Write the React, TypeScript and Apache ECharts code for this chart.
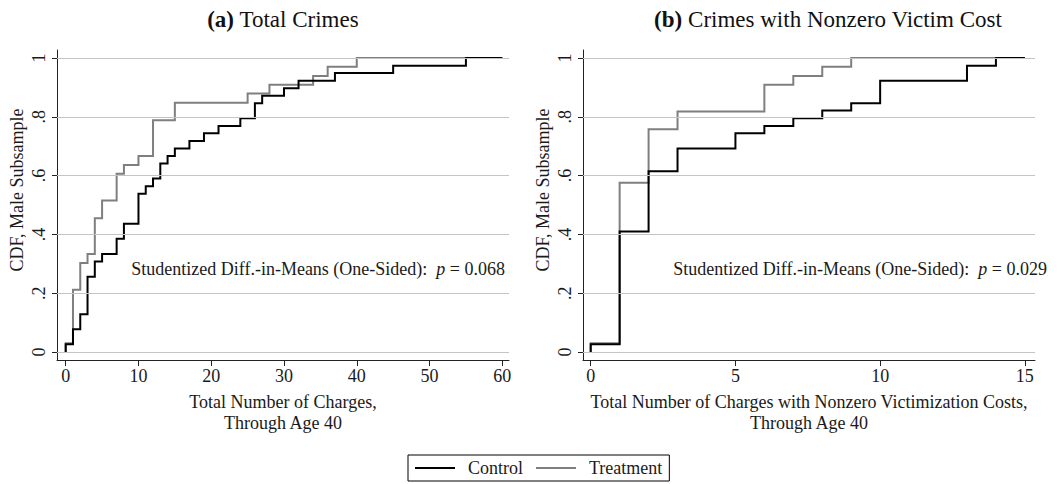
import React, { useEffect, useRef } from "react";
import * as echarts from "echarts";

// Panel (a): Total crimes — step CDF points (x = charges, y = CDF)
const ctrlTotalX = [0, 0, 1, 2, 3, 4, 5, 7, 8, 10, 11, 12, 13, 14, 15, 17, 19, 21, 24, 26, 27, 30, 32, 37, 45, 55, 60];
const ctrlTotalY = [0, 0.026, 0.077, 0.128, 0.256, 0.308, 0.333, 0.385, 0.436, 0.538, 0.564, 0.59, 0.641, 0.667, 0.692, 0.718, 0.744, 0.769, 0.795, 0.846, 0.872, 0.897, 0.923, 0.949, 0.974, 1, 1];
const treatTotalX = [0, 0, 1, 2, 3, 4, 5, 7, 8, 10, 12, 15, 25, 28, 34, 36, 40, 60];
const treatTotalY = [0, 0.03, 0.212, 0.303, 0.333, 0.455, 0.515, 0.606, 0.636, 0.667, 0.788, 0.848, 0.879, 0.909, 0.939, 0.97, 1, 1];

// Panel (b): Crimes with nonzero victim cost
const ctrlVicX = [0, 0, 1, 2, 3, 5, 6, 7, 8, 9, 10, 13, 14, 15];
const ctrlVicY = [0, 0.026, 0.41, 0.615, 0.692, 0.744, 0.769, 0.795, 0.821, 0.846, 0.923, 0.974, 1, 1];
const treatVicX = [0, 0, 1, 2, 3, 6, 7, 8, 9, 15];
const treatVicY = [0, 0.03, 0.576, 0.758, 0.818, 0.909, 0.939, 0.97, 1, 1];

const xTicksTotal = [0, 10, 20, 30, 40, 50, 60];
const xTicksVic = [0, 5, 10, 15];
const yTicks = [0, 0.2, 0.4, 0.6, 0.8, 1];
const yTickLabels = ["0", ".2", ".4", ".6", ".8", "1"];

const seriesNames = ["Control", "Treatment"];
const panelTitles = ["Total Crimes", "Crimes with Nonzero Victim Cost"];
const panelLetters = ["(a)", "(b)"];
const xTitles = [
  ["Total Number of Charges,", "Through Age 40"],
  ["Total Number of Charges with Nonzero Victimization Costs,", "Through Age 40"],
];
const yTitle = "CDF, Male Subsample";
const pValues = ["0.068", "0.029"];

const FONT = "'Liberation Serif', 'Times New Roman', serif";
const FS = 18;
const TXT = "#1a1a1a";
const CTRL_COLOR = "#000000";
const TREAT_COLOR = "#7f7f7f";
const GRID_COLOR = "#c4c4c4";

const zip = (xs: number[], ys: number[]) => xs.map((x, i) => [x, ys[i]]);

function makeX(idx: number, min: number, max: number, ticks: number[]) {
  return {
    type: "value",
    gridIndex: idx,
    min,
    max,
    axisLine: { show: true, onZero: false, lineStyle: { color: "#222", width: 1 } },
    axisTick: { show: true, customValues: ticks, length: 6, lineStyle: { color: "#222", width: 1 } },
    axisLabel: {
      customValues: ticks,
      fontFamily: FONT,
      fontSize: FS,
      color: TXT,
      margin: 7,
    },
    splitLine: { show: false },
  };
}

function makeY(idx: number) {
  return {
    type: "value",
    gridIndex: idx,
    min: -0.0272,
    max: 1.0272,
    axisLine: { show: true, onZero: false, lineStyle: { color: "#222", width: 1 } },
    axisTick: { show: true, customValues: yTicks, length: 5, lineStyle: { color: "#222", width: 1 } },
    axisLabel: {
      customValues: yTicks,
      rotate: 90,
      fontFamily: FONT,
      fontSize: FS,
      color: TXT,
      margin: 9,
      formatter: (v: number) => yTickLabels[Math.round(v * 5)] ?? "",
    },
    splitLine: { show: false },
  };
}

function gridSeries(idx: number) {
  return {
    type: "line",
    xAxisIndex: idx,
    yAxisIndex: idx,
    data: [],
    z: 1,
    silent: true,
    symbol: "none",
    markLine: {
      silent: true,
      symbol: ["none", "none"],
      label: { show: false },
      lineStyle: { color: GRID_COLOR, width: 1, type: "solid" },
      data: yTicks.map((v) => ({ yAxis: v })),
      animation: false,
    },
  };
}

function cdfSeries(name: string, idx: number, data: number[][], color: string, z: number) {
  return {
    name,
    type: "line",
    xAxisIndex: idx,
    yAxisIndex: idx,
    step: "end",
    symbol: "none",
    data,
    z,
    lineStyle: { color, width: 2, cap: "butt", join: "miter" },
    itemStyle: { color },
  };
}

export default function App() {
  const ref = useRef<HTMLDivElement>(null);
  useEffect(() => {
    if (!ref.current) return;
    const chart = echarts.init(ref.current, undefined, { renderer: "svg" });
    const titleCenters = [283, 828];
    const plotCenters = [283, 809];
    const graphics: any[] = [];
    [0, 1].forEach((i) => {
      graphics.push({
        type: "text",
        x: titleCenters[i],
        y: 19,
        style: {
          text: `{b|${panelLetters[i]}} ${panelTitles[i]}`,
          align: "center",
          verticalAlign: "middle",
          fontFamily: FONT,
          fontSize: 23,
          fill: "#111",
          rich: {
            b: { fontFamily: FONT, fontSize: 23, fontWeight: "bold", fill: "#111" },
          },
        },
      });
      xTitles[i].forEach((line, k) => {
        graphics.push({
          type: "text",
          x: plotCenters[i],
          y: 402 + k * 21,
          style: { text: line, align: "center", verticalAlign: "middle", fontFamily: FONT, fontSize: FS, fill: TXT },
        });
      });
      graphics.push({
        type: "text",
        x: i === 0 ? 17 : 543,
        y: 190,
        rotation: Math.PI / 2,
        style: { text: yTitle, align: "center", verticalAlign: "middle", fontFamily: FONT, fontSize: FS, fill: TXT },
      });
      graphics.push({
        type: "text",
        x: i === 0 ? 505 : 1047,
        y: 269,
        style: {
          text: `Studentized Diff.-in-Means (One-Sided):  {i|p} = ${pValues[i]}`,
          align: "right",
          verticalAlign: "middle",
          fontFamily: FONT,
          fontSize: FS,
          fill: TXT,
          rich: { i: { fontFamily: FONT, fontSize: FS, fontStyle: "italic", fill: TXT } },
        },
      });
    });

    chart.setOption({
      animation: false,
      backgroundColor: "#ffffff",
      grid: [
        { left: 57, top: 50, width: 452, height: 310 },
        { left: 583, top: 50, width: 452, height: 310 },
      ],
      xAxis: [makeX(0, -1.196, 60.92, xTicksTotal), makeX(1, -0.266, 15.35, xTicksVic)],
      yAxis: [makeY(0), makeY(1)],
      legend: {
        data: seriesNames,
        left: 408,
        top: 455,
        icon: "rect",
        itemWidth: 40,
        itemHeight: 2,
        itemGap: 13,
        borderColor: "#000",
        borderWidth: 1,
        borderRadius: 0,
        padding: [4, 7, 4, 7],
        textStyle: { fontFamily: FONT, fontSize: FS, color: TXT, padding: [0, 0, 0, 8] },
      },
      series: [
        gridSeries(0),
        gridSeries(1),
        cdfSeries(seriesNames[1], 0, zip(treatTotalX, treatTotalY), TREAT_COLOR, 3),
        cdfSeries(seriesNames[0], 0, zip(ctrlTotalX, ctrlTotalY), CTRL_COLOR, 4),
        cdfSeries(seriesNames[1], 1, zip(treatVicX, treatVicY), TREAT_COLOR, 3),
        cdfSeries(seriesNames[0], 1, zip(ctrlVicX, ctrlVicY), CTRL_COLOR, 4),
      ],
      graphic: graphics,
    });
    return () => chart.dispose();
  }, []);
  return (
    <div
      ref={ref}
      style={{ position: "absolute", left: 0, top: 0, width: 1058, height: 484, background: "#fff" }}
    />
  );
}
